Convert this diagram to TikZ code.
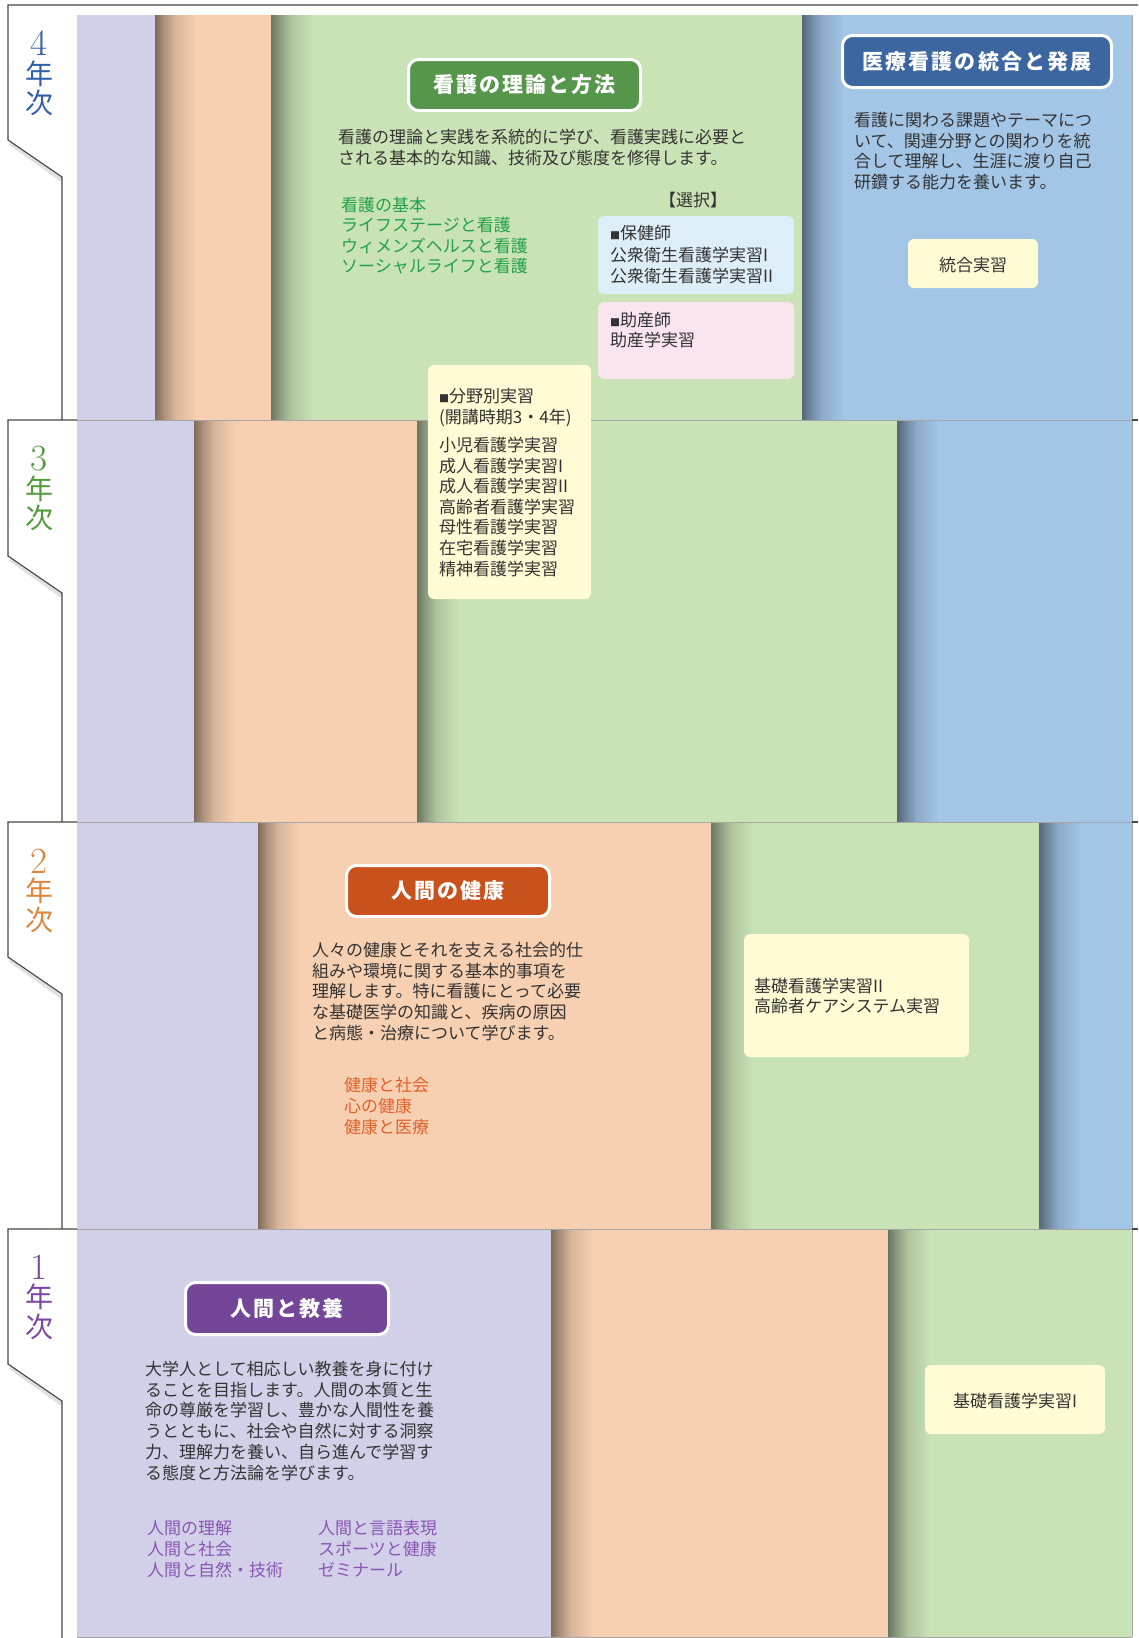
\documentclass[tikz,border=0pt]{standalone}
\usepackage{fontspec}
\newfontfamily\jp{Noto Sans CJK JP}
\definecolor{lav}{HTML}{D2D0E8}
\definecolor{pch}{HTML}{F7D0B2}
\definecolor{grn}{HTML}{C9E2B6}
\definecolor{blu}{HTML}{A3C5E6}
\definecolor{ylw}{HTML}{FFFBD4}
\definecolor{lblu}{HTML}{DDEEF9}
\definecolor{pnk}{HTML}{FAE4EE}
\definecolor{txt}{HTML}{333333}
\definecolor{hgrn}{HTML}{56964A}
\definecolor{hblu}{HTML}{3B66A0}
\definecolor{horg}{HTML}{C9511C}
\definecolor{hpur}{HTML}{734697}
\definecolor{lgrn}{HTML}{22A04A}
\definecolor{lorg}{HTML}{E0622C}
\definecolor{lpur}{HTML}{8A55B5}
\definecolor{yr4}{HTML}{2F5FA8}
\definecolor{yr3}{HTML}{4F9A3A}
\definecolor{yr2}{HTML}{E0843A}
\definecolor{yr1}{HTML}{7A48A0}
\definecolor{frm}{HTML}{4A4444}
\newcommand\myband[5]{\fill[#5] (#1,#3) rectangle (#2,#4);}
\newcommand\myshadow[4]{%
  \shade[left color=#4!52!black, right color=#4!68!black] (#1,#2) rectangle (#1+8,#3);
  \shade[left color=#4!68!black, right color=#4!87!black] (#1+8,#2) rectangle (#1+20,#3);
  \shade[left color=#4!87!black, right color=#4] (#1+20,#2) rectangle (#1+42,#3);
}
\tikzset{
  x=1pt, y=-1pt,
  frame/.style={draw=frm, line width=1.1pt},
  tabshadow/.style={draw=black, opacity=0.12, line width=4pt},
  sepline/.style={draw=black!35, line width=0.7pt},
  hdr/.style={rectangle, rounded corners=10pt, draw=white, line width=3pt, text=white, inner sep=0pt,
    font=\jp\bfseries\fontsize{21}{21}\selectfont\addfontfeature{LetterSpace=10}},
  box/.style={rectangle, rounded corners=6pt, inner sep=0pt},
  body/.style={font=\jp\fontsize{17}{20.7}\selectfont, text=txt, align=left, inner sep=0pt, anchor=north west},
  yrdig/.style={font=\rmfamily\fontsize{37}{37}\selectfont, inner sep=0pt},
  yrchr/.style={font=\jp\fontsize{28}{28}\selectfont, inner sep=0pt},
}
\newcommand\sq{{\fontsize{10}{10}\selectfont ■}}
\begin{document}
\begin{tikzpicture}
\useasboundingbox (0,0) rectangle (1138,1638);
\fill[white] (0,0) rectangle (1138,1638);
% row 4
\myband{77}{155}{15}{420}{lav}
\myband{155}{271}{15}{420}{pch}\myshadow{155}{15}{420}{pch}
\myband{271}{802}{15}{420}{grn}\myshadow{271}{15}{420}{grn}
\myband{802}{1132}{15}{420}{blu}\myshadow{802}{15}{420}{blu}
% row 3
\myband{77}{194}{420}{822}{lav}
\myband{194}{417}{420}{822}{pch}\myshadow{194}{420}{822}{pch}
\myband{417}{897}{420}{822}{grn}\myshadow{417}{420}{822}{grn}
\myband{897}{1132}{420}{822}{blu}\myshadow{897}{420}{822}{blu}
% row 2
\myband{77}{258}{822}{1229}{lav}
\myband{258}{711}{822}{1229}{pch}\myshadow{258}{822}{1229}{pch}
\myband{711}{1039}{822}{1229}{grn}\myshadow{711}{822}{1229}{grn}
\myband{1039}{1132}{822}{1229}{blu}\myshadow{1039}{822}{1229}{blu}
% row 1
\myband{77}{551}{1229}{1637}{lav}
\myband{551}{888}{1229}{1637}{pch}\myshadow{551}{1229}{1637}{pch}
\myband{888}{1132}{1229}{1637}{grn}\myshadow{888}{1229}{1637}{grn}
% separators
\draw[sepline] (77,420) -- (1132,420);
\draw[sepline] (77,822) -- (1132,822);
\draw[sepline] (77,1229) -- (1132,1229);
\draw[sepline] (77,1637) -- (1132,1637);
\draw[sepline] (1132,15) -- (1132,1637);
% tab diagonal shadows
\draw[tabshadow] (10,143) -- (62,180);
\draw[tabshadow] (10,559) -- (62,596);
\draw[tabshadow] (10,960) -- (62,997);
\draw[tabshadow] (10,1367) -- (62,1404);
% tab outlines
\draw[frame] (1138,5) -- (8,5) -- (8,140) -- (62,177) -- (62,420);
\draw[frame] (77,420) -- (8,420) -- (8,556) -- (62,593) -- (62,822);
\draw[frame] (77,822) -- (8,822) -- (8,957) -- (62,994) -- (62,1229);
\draw[frame] (77,1229) -- (8,1229) -- (8,1364) -- (62,1401) -- (62,1638);
\draw[frame] (1132,420) -- (1138,420);
\draw[frame] (1132,822) -- (1138,822);
\draw[frame] (1132,1229) -- (1138,1229);
% year labels
\node[yrdig, text=yr4] (y4a) at (39,43) {4};
\node[yrchr, text=yr4] (y4b) at (39,74) {年};
\node[yrchr, text=yr4] (y4c) at (39,103) {次};
\node[yrdig, text=yr3] (y3a) at (39,459) {3};
\node[yrchr, text=yr3] (y3b) at (39,489) {年};
\node[yrchr, text=yr3] (y3c) at (39,518) {次};
\node[yrdig, text=yr2] (y2a) at (39,861) {2};
\node[yrchr, text=yr2] (y2b) at (39,891) {年};
\node[yrchr, text=yr2] (y2c) at (39,920) {次};
\node[yrdig, text=yr1] (y1a) at (39,1267) {1};
\node[yrchr, text=yr1] (y1b) at (39,1297) {年};
\node[yrchr, text=yr1] (y1c) at (39,1327) {次};
% headers
\node[hdr, fill=hgrn, minimum width=232, minimum height=51] (h4) at (524.5,85) {看護の理論と方法};
\node[hdr, fill=hblu, minimum width=269, minimum height=52] (h4b) at (977,61.5) {医療看護の統合と発展};
\node[hdr, fill=horg, minimum width=203, minimum height=51] (h2) at (448,891) {人間の健康};
\node[hdr, fill=hpur, minimum width=203, minimum height=52] (h1) at (287,1308.5) {人間と教養};
% row 4 texts
\node[body] (t4) at (338,129) {看護の理論と実践を系統的に学び、看護実践に必要と\\される基本的な知識、技術及び態度を修得します。};
\node[body, text=lgrn, font=\jp\fontsize{17}{20.3}\selectfont] (l4) at (341,197) {看護の基本\\ライフステージと看護\\ウィメンズヘルスと看護\\ソーシャルライフと看護};
\node[body, anchor=center] (sel) at (693,200) {【選択】};
\node[body] (b4) at (854,112) {看護に関わる課題やテーマにつ\\いて、関連分野との関わりを統\\合して理解し、生涯に渡り自己\\研鑽する能力を養います。};
\node[box, fill=lblu, minimum width=196, minimum height=78] (bx1) at (696,255) {};
\node[body, font=\jp\fontsize{17}{21.5}\selectfont] (bx1t) at (610,225) {\sq 保健師\\公衆衛生看護学実習I\\公衆衛生看護学実習II};
\node[box, fill=pnk, minimum width=196, minimum height=77] (bx2) at (696,340.5) {};
\node[body, font=\jp\fontsize{17}{19.5}\selectfont] (bx2t) at (610,312) {\sq 助産師\\助産学実習};
\node[box, fill=ylw, minimum width=130, minimum height=49] (bx3) at (973,263.5) {};
\node[body, anchor=center] (bx3t) at (973,265) {統合実習};
\node[box, fill=ylw, minimum width=163, minimum height=234] (bx4) at (509.5,482) {};
\node[body, font=\jp\fontsize{17}{21}\selectfont] (bx4a) at (439,388) {\sq 分野別実習\\(開講時期3・4年)};
\node[body, font=\jp\fontsize{17}{20.6}\selectfont] (bx4b) at (439,437) {小児看護学実習\\成人看護学実習I\\成人看護学実習II\\高齢者看護学実習\\母性看護学実習\\在宅看護学実習\\精神看護学実習};
% row 2 texts
\node[body] (t2) at (312,942) {人々の健康とそれを支える社会的仕\\組みや環境に関する基本的事項を\\理解します。特に看護にとって必要\\な基礎医学の知識と、疾病の原因\\と病態・治療について学びます。};
\node[body, text=lorg, font=\jp\fontsize{17}{21}\selectfont] (l2) at (344,1077) {健康と社会\\心の健康\\健康と医療};
\node[box, fill=ylw, minimum width=225, minimum height=123] (bx5) at (856.5,995.5) {};
\node[body, font=\jp\fontsize{17}{19.5}\selectfont] (bx5t) at (754,978) {基礎看護学実習II\\高齢者ケアシステム実習};
% row 1 texts
\node[body] (t1) at (145,1361) {大学人として相応しい教養を身に付け\\ることを目指します。人間の本質と生\\命の尊厳を学習し、豊かな人間性を養\\うとともに、社会や自然に対する洞察\\力、理解力を養い、自ら進んで学習す\\る態度と方法論を学びます。};
\node[body, text=lpur, font=\jp\fontsize{17}{21}\selectfont] (l1a) at (147,1520) {人間の理解\\人間と社会\\人間と自然・技術};
\node[body, text=lpur, font=\jp\fontsize{17}{21}\selectfont] (l1b) at (318,1520) {人間と言語表現\\スポーツと健康\\ゼミナール};
\node[box, fill=ylw, minimum width=180, minimum height=69] (bx6) at (1015,1399.5) {};
\node[body, anchor=center] (bx6t) at (1015,1401) {基礎看護学実習I};
\end{tikzpicture}
\end{document}
